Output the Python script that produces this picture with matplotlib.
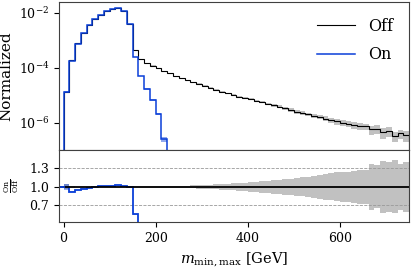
import numpy as np
import matplotlib
matplotlib.use("Agg")
import matplotlib.pyplot as plt

plt.rcParams['font.family'] = ['DejaVu Serif']
plt.rcParams['mathtext.fontset'] = 'dejavuserif'

# Binning: 60 bins of 12.5 GeV
edges = np.linspace(0, 750, 61)

# Normalized distributions
off = np.array([
    1.3e-5, 1.95e-4, 7.8e-4, 1.85e-3, 3.75e-3, 6.0e-3, 8.6e-3, 1.13e-2, 1.37e-2, 1.46e-2,
    1.18e-2, 4.0e-3, 4.5e-4, 2.0e-4, 1.5e-4, 1.2e-4, 9.5e-5, 7.6e-5, 6.2e-5, 5.1e-5,
    4.3e-5, 3.6e-5, 3.0e-5, 2.6e-5, 2.2e-5, 1.85e-5, 1.6e-5, 1.35e-5, 1.15e-5, 1.0e-5,
    8.9e-6, 7.9e-6, 7.2e-6, 6.3e-6, 5.5e-6, 4.9e-6, 4.3e-6, 3.8e-6, 3.3e-6, 2.9e-6,
    2.5e-6, 2.25e-6, 2.0e-6, 1.8e-6, 1.6e-6, 1.4e-6, 1.25e-6, 1.1e-6, 1.0e-6, 8.9e-7,
    8.0e-7, 7.6e-7, 7.2e-7, 5.6e-7, 6.0e-7, 4.4e-7, 4.9e-7, 3.3e-7, 4.0e-7, 3.4e-7])

on = np.array([
    1.3e-5, 1.8e-4, 7.4e-4, 1.8e-3, 3.7e-3, 6.0e-3, 8.7e-3, 1.15e-2, 1.4e-2, 1.5e-2,
    1.2e-2, 4.0e-3, 2.5e-4, 5.0e-5, 1.7e-5, 6.5e-6, 2.1e-6, 2.5e-7] + [0.0] * 42)

# relative uncertainties
off_err = np.array([
    0.04, 0.01, 0.006, 0.005, 0.005, 0.005, 0.005, 0.005, 0.005, 0.005,
    0.005, 0.006, 0.01, 0.01, 0.01, 0.012, 0.013, 0.015, 0.016, 0.018,
    0.02, 0.022, 0.025, 0.028, 0.031, 0.035, 0.04, 0.045, 0.05, 0.058,
    0.065, 0.07, 0.077, 0.085, 0.092, 0.10, 0.108, 0.116, 0.125, 0.135,
    0.145, 0.155, 0.165, 0.175, 0.19, 0.205, 0.22, 0.235, 0.25, 0.25,
    0.26, 0.27, 0.28, 0.37, 0.35, 0.42, 0.40, 0.43, 0.38, 0.40])

on_err = np.array([
    0.05, 0.01, 0.006, 0.005, 0.005, 0.005, 0.005, 0.005, 0.005, 0.005,
    0.005, 0.008, 0.02, 0.04, 0.06, 0.08, 0.10, 0.2] + [0.0] * 42)

black = 'black'
blue = '#0a3fd8'

fig = plt.figure(figsize=(4.11, 2.69), dpi=100)
ax1 = fig.add_axes([0.1436, 0.4424, 0.8516, 0.5502])
ax2 = fig.add_axes([0.1436, 0.1747, 0.8516, 0.2677], sharex=ax1)

# Main panel
ax1.stairs(off * (1 + off_err), edges, baseline=off * (1 - off_err),
           fill=True, color='0.6', alpha=0.6, lw=0)
ax1.stairs(off, edges, color=black, lw=0.8, label='Off')
ax1.stairs(on * (1 + on_err), edges, baseline=on * (1 - on_err),
           fill=True, color=blue, alpha=0.45, lw=0)
ax1.stairs(on, edges, color=blue, lw=1.1, label='On')

ax1.set_yscale('log')
ax1.set_ylim(1e-7, 2.5e-2)
ax1.set_xlim(-10, 750)
ax1.set_yticks([1e-6, 1e-4, 1e-2])
ax1.yaxis.set_minor_locator(matplotlib.ticker.NullLocator())
ax1.tick_params(axis='x', which='both', bottom=False, labelbottom=False)
ax1.tick_params(axis='y', labelsize=9)
ax1.set_ylabel('Normalized', fontsize=11)
ax1.yaxis.set_label_coords(-0.13, 0.5)
ax1.legend(loc='upper right', frameon=False, fontsize=11.5, handlelength=2.4,
           handletextpad=0.8, labelspacing=0.7, borderaxespad=0.6)

# Ratio panel
with np.errstate(divide='ignore', invalid='ignore'):
    ratio_on = np.where(off > 0, on / off, 0)
ax2.stairs(1 + off_err, edges, baseline=1 - off_err, fill=True, color='0.6',
           alpha=0.6, lw=0)
ax2.stairs(ratio_on * (1 + on_err), edges, baseline=ratio_on * (1 - on_err),
           fill=True, color=blue, alpha=0.45, lw=0)
for yv in [0.7, 1.3]:
    ax2.axhline(yv, color='0.6', lw=0.6, ls='--', zorder=0)
ax2.axhline(1.0, color=black, lw=1.3)
ax2.plot([-10, 0], [1.0, 1.0], color=blue, lw=1.3)
ax2.stairs(ratio_on, edges, baseline=None, color=blue, lw=1.3)

ax2.set_ylim(0.43, 1.6)
ax2.set_yticks([0.7, 1.0, 1.3])
ax2.set_yticklabels(['0.7', '1.0', '1.3'])
ax2.set_xticks([0, 200, 400, 600])
ax2.tick_params(labelsize=9)
ax2.set_ylabel(r'$\frac{\mathrm{On}}{\mathrm{Off}}$', fontsize=8)
ax2.yaxis.set_label_coords(-0.11, 0.5)
ax2.set_xlabel(r'$m_{\mathrm{min,max}}$ [GeV]', fontsize=10.5)

for ax in (ax1, ax2):
    for s in ax.spines.values():
        s.set_color('0.25')

fig.savefig('out.png', dpi=100)
